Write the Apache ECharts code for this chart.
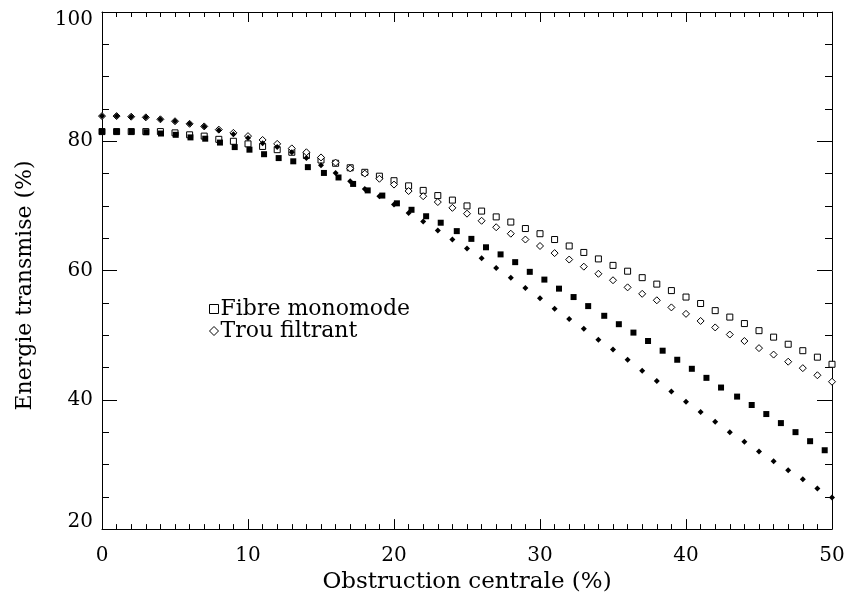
<!DOCTYPE html>
<html><head><meta charset="utf-8">
<script src="https://cdn.jsdelivr.net/npm/echarts@6/dist/echarts.min.js"></script>
<style>html,body{margin:0;padding:0;background:#fff}#c{width:848px;height:599px}</style>
</head><body><div id="c"></div>
<script>
// x positions (obstruction centrale, %)
const xValues = [0,1,2,3,4,5,6,7,8,9,10,11,12,13,14,15,16,17,18,19,20,21,22,23,24,25,26,27,28,29,30,31,32,33,34,35,36,37,38,39,40,41,42,43,44,45,46,47,48,49,50];
// filled-square series sits on a slightly wider x spacing in the reference
const xFilledSquare = [0,1.01,2.02,3.03,4.04,5.05,6.06,7.07,8.08,9.09,10.1,11.1,12.1,13.1,14.1,15.2,16.2,17.2,18.2,19.2,20.2,21.2,22.2,23.2,24.3,25.3,26.3,27.3,28.3,29.3,30.3,31.3,32.3,33.3,34.4,35.4,36.4,37.4,38.4,39.4,40.4,41.4,42.4,43.5,44.5,45.5,46.5,47.5,48.5,49.5];

const fibreOpen = [81.5,81.5,81.5,81.5,81.5,81.3,81.0,80.8,80.3,80.0,79.6,79.2,78.7,78.3,77.8,77.1,76.6,75.9,75.2,74.6,73.9,73.1,72.4,71.6,70.9,70.0,69.2,68.3,67.5,66.5,65.7,64.8,63.8,62.8,61.8,60.8,59.9,58.9,57.9,56.9,55.9,54.9,53.8,52.8,51.8,50.7,49.7,48.6,47.6,46.6,45.5];
const fibreFilled = [81.5,81.5,81.5,81.4,81.2,81.0,80.6,80.4,79.8,79.1,78.7,78.0,77.4,76.9,76.0,75.1,74.4,73.4,72.4,71.6,70.4,69.4,68.4,67.4,66.1,64.9,63.6,62.5,61.3,59.8,58.6,57.2,55.9,54.5,53.0,51.7,50.4,49.1,47.6,46.2,44.8,43.4,41.9,40.5,39.2,37.8,36.4,35.0,33.6,32.2];
const trouOpen = [83.9,83.9,83.8,83.7,83.4,83.1,82.7,82.3,81.8,81.3,80.8,80.2,79.6,78.9,78.3,77.5,76.7,75.8,75.0,74.2,73.3,72.3,71.5,70.6,69.7,68.8,67.7,66.7,65.7,64.8,63.8,62.7,61.7,60.6,59.5,58.5,57.4,56.4,55.4,54.3,53.3,52.2,51.2,50.1,49.1,48.0,47.0,45.9,44.9,43.8,42.8];
const trouFilled = [83.9,83.9,83.8,83.7,83.4,83.1,82.7,82.3,81.7,81.1,80.5,79.7,79.1,78.3,77.4,76.3,75.1,73.8,72.6,71.5,70.2,68.9,67.6,66.2,64.8,63.4,61.9,60.4,58.9,57.3,55.7,54.1,52.5,51.0,49.3,47.8,46.2,44.5,42.9,41.3,39.7,38.1,36.6,35.0,33.5,32.0,30.5,29.1,27.7,26.3,24.9];

const legendNames = ['Fibre monomode', 'Trou filtrant'];
const xTitle = 'Obstruction centrale (%)';
const yTitle = 'Energie transmise (%)';

function pairs(xs, ys) { return ys.map((y, i) => [xs[i], y]); }

const FONT = 'DejaVu Serif';
const chart = echarts.init(document.getElementById('c'), null, {renderer: 'canvas'});

const tickStyleX = {show: true, inside: true, length: 10, lineStyle: {color: '#000', width: 1}};
const minorX = {show: true, splitNumber: 10, length: 5, lineStyle: {color: '#000', width: 1}};
const tickStyleY = {show: true, inside: true, length: 15, lineStyle: {color: '#000', width: 1}};
const minorY = {show: true, splitNumber: 4, length: 7, lineStyle: {color: '#000', width: 1}};
const axisLine = {show: true, onZero: false, lineStyle: {color: '#000', width: 1}};
const openStyle = {color: '#fff', borderColor: '#000', borderWidth: 1, opacity: 1};

chart.setOption({
  backgroundColor: '#fff',
  animation: false,
  grid: {left: 102, right: 16, top: 12, bottom: 69, containLabel: false},
  legend: {
    data: [
      {name: legendNames[0], icon: 'rect', itemStyle: openStyle},
      {name: legendNames[1], icon: 'diamond', itemStyle: openStyle}
    ],
    orient: 'vertical', left: 204, top: 293,
    itemWidth: 9, itemHeight: 9, itemGap: 0,
    itemStyle: {borderWidth: 1},
    textStyle: {fontFamily: FONT, fontSize: 22, color: '#000', padding: [0,0,0,-3]},
    selectedMode: false
  },
  xAxis: [{
    type: 'value', min: 0, max: 50, interval: 10, position: 'bottom',
    axisLine: axisLine, axisTick: tickStyleX, minorTick: minorX,
    splitLine: {show: false}, minorSplitLine: {show: false},
    axisLabel: {fontFamily: FONT, fontSize: 20, color: '#000', margin: 17},
    name: xTitle, nameLocation: 'middle', nameGap: 38,
    nameTextStyle: {fontFamily: FONT, fontSize: 23, color: '#000'}
  }, {
    type: 'value', min: 0, max: 50, interval: 10, position: 'top',
    axisLine: axisLine, axisTick: tickStyleX, minorTick: minorX,
    splitLine: {show: false}, axisLabel: {show: false}
  }],
  yAxis: [{
    type: 'value', min: 20, max: 100, interval: 20, position: 'left',
    axisLine: axisLine, axisTick: tickStyleY, minorTick: minorY,
    splitLine: {show: false}, minorSplitLine: {show: false},
    axisLabel: {
      fontFamily: FONT, fontSize: 20, color: '#000', margin: 9,
      formatter: v => v === 100 ? '{t|100}' : (v === 20 ? '{b|20}' : String(v)),
      rich: {
        t: {fontFamily: FONT, fontSize: 20, color: '#000', padding: [15,0,0,0]},
        b: {fontFamily: FONT, fontSize: 20, color: '#000', padding: [0,0,15,0]}
      }
    },
    name: yTitle, nameLocation: 'middle', nameGap: 66, nameRotate: 90,
    nameTextStyle: {fontFamily: FONT, fontSize: 22, color: '#000', padding: [0,30,0,0]}
  }, {
    type: 'value', min: 20, max: 100, interval: 20, position: 'right',
    axisLine: axisLine, axisTick: tickStyleY, minorTick: minorY,
    splitLine: {show: false}, axisLabel: {show: false}
  }],
  series: [
    {name: legendNames[0], type: 'scatter', xAxisIndex: 0, yAxisIndex: 0, symbol: 'rect', symbolSize: 6,
     itemStyle: openStyle, data: pairs(xValues, fibreOpen), z: 2},
    {name: legendNames[1], type: 'scatter', xAxisIndex: 0, yAxisIndex: 0, symbol: 'diamond', symbolSize: 7,
     itemStyle: openStyle, data: pairs(xValues, trouOpen), z: 3},
    {name: 'Fibre monomode (2)', type: 'scatter', xAxisIndex: 0, yAxisIndex: 0, symbol: 'rect', symbolSize: 6,
     itemStyle: {color: '#000', opacity: 1},
     data: pairs(xFilledSquare, fibreFilled), z: 4},
    {name: 'Trou filtrant (2)', type: 'scatter', xAxisIndex: 0, yAxisIndex: 0, symbol: 'diamond', symbolSize: 6,
     itemStyle: {color: '#000', opacity: 1},
     data: pairs(xValues, trouFilled), z: 5}
  ]
});
</script>
</body></html>
